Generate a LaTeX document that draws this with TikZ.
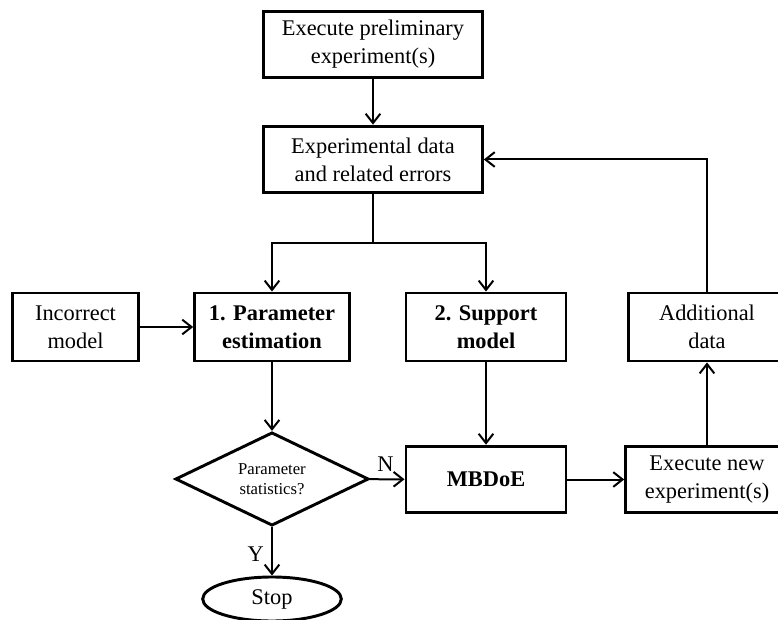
\documentclass[tikz,border=0pt]{standalone}
\usepackage{fontspec}
\setmainfont{Liberation Serif}
\usetikzlibrary{shapes.geometric, arrows.meta, positioning}

\begin{document}
\begin{tikzpicture}[
  x=0.75pt, y=-0.75pt,
  box/.style={rectangle, draw=black, line width=2.2pt, minimum height=50pt, align=center, font=\fontsize{16.8}{21}\selectfont, inner sep=0pt},
  dec/.style={diamond, draw=black, line width=2.2pt, minimum width=145pt, minimum height=70pt, aspect=2.07, inner sep=0pt, align=center, font=\fontsize{12.5}{15}\selectfont},
  term/.style={ellipse, draw=black, line width=2.2pt, minimum width=104pt, minimum height=33pt, inner sep=0pt, font=\fontsize{16.8}{21}\selectfont},
  lbl/.style={font=\fontsize{16.8}{21}\selectfont},
  arr/.style={-{Straight Barb[length=7pt, width=11pt, line width=1.5pt]}, line width=1.5pt, draw=black},
  ln/.style={line width=1.5pt, draw=black},
]
\useasboundingbox (0,0) rectangle (778,620);

%% Top column
\node[box, minimum width=164pt] (prelim)  at (373,44.5)  {Execute preliminary\\experiment(s)};
\node[box, minimum width=164pt] (expdata) at (373,159.5) {Experimental data\\and related errors};

%% Model row
\node[box, minimum width=95pt, minimum height=51pt]  (incorrect) at (75.5,327) {Incorrect\\model};
\node[box, minimum width=116pt, minimum height=51pt] (paramest)  at (272,327)  {\textbf{1. Parameter}\\\textbf{estimation}};
\node[box, minimum width=120pt, minimum height=51pt] (support)   at (486,327)  {\textbf{2. Support}\\\textbf{model}};
\node[box, minimum width=118pt, minimum height=51pt] (adddata)   at (707,327)  {Additional\\data};

%% Design row
\node[dec] (stats)   at (272,479)   {Parameter\\statistics?};
\node[box, minimum width=120pt] (mbdoe)   at (486,479.5) {\textbf{MBDoE}};
\node[box, minimum width=122pt] (execnew) at (707,479.5) {Execute new\\experiment(s)};
\node[term] (stop) at (272,599) {Stop};

%% Connections
\draw[arr] (prelim) -- (expdata);
\draw[ln] (expdata.south) -- (373,243) coordinate (split);
\draw[arr] (split) -| (paramest.north);
\draw[arr] (split) -| (support.north);
\draw[arr] (incorrect) -- (paramest);
\draw[arr] (paramest) -- (stats);
\draw[arr] (support) -- (mbdoe);
\draw[arr] (stats) -- node[lbl, above, pos=0.45, yshift=2pt]{N} (mbdoe);
\draw[arr] (stats) -- node[lbl, left, pos=0.55, xshift=-2pt]{Y} (stop);
\draw[arr] (mbdoe) -- (execnew);
\draw[arr] (execnew) -- (adddata);
\draw[arr] (adddata.north) |- (expdata.east);
\end{tikzpicture}
\end{document}
